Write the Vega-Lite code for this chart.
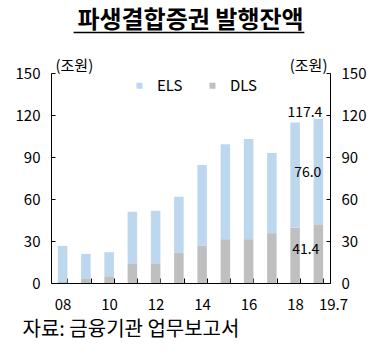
{
  "$schema": "https://vega.github.io/schema/vega-lite/v6.json",
  "width": 279,
  "height": 210,
  "autosize": "none",
  "padding": {"left": 51, "top": 73, "right": 48, "bottom": 69},
  "background": "white",
  "config": {
    "font": "Noto Sans CJK KR",
    "view": {"stroke": null},
    "axis": {"grid": false, "domainColor": "black", "tickColor": "black", "labelColor": "black", "titleColor": "black", "titleFontWeight": "normal", "labelFont": "Noto Sans CJK KR", "titleFont": "Noto Sans CJK KR"},
    "text": {"font": "Noto Sans CJK KR", "color": "black"}
  },
  "title": {"text": "파생결합증권 발행잔액", "fontSize": 24, "fontWeight": "bold", "font": "Noto Sans CJK KR", "anchor": "middle", "frame": "group", "color": "black", "offset": -1},
  "data": {"values": [
    {"year": "08", "type": "DLS", "value": 0.7}, {"year": "08", "type": "ELS", "value": 25.8},
    {"year": "09", "type": "DLS", "value": 2.9}, {"year": "09", "type": "ELS", "value": 17.9},
    {"year": "10", "type": "DLS", "value": 4.8}, {"year": "10", "type": "ELS", "value": 17.2},
    {"year": "11", "type": "DLS", "value": 13.6}, {"year": "11", "type": "ELS", "value": 37.3},
    {"year": "12", "type": "DLS", "value": 13.6}, {"year": "12", "type": "ELS", "value": 38.0},
    {"year": "13", "type": "DLS", "value": 21.5}, {"year": "13", "type": "ELS", "value": 40.1},
    {"year": "14", "type": "DLS", "value": 26.5}, {"year": "14", "type": "ELS", "value": 57.8},
    {"year": "15", "type": "DLS", "value": 31.3}, {"year": "15", "type": "ELS", "value": 67.8},
    {"year": "16", "type": "DLS", "value": 31.3}, {"year": "16", "type": "ELS", "value": 71.6},
    {"year": "17", "type": "DLS", "value": 35.6}, {"year": "17", "type": "ELS", "value": 57.3},
    {"year": "18", "type": "DLS", "value": 39.4}, {"year": "18", "type": "ELS", "value": 75.2},
    {"year": "19.7", "type": "DLS", "value": 41.4}, {"year": "19.7", "type": "ELS", "value": 76.0}
  ]},
  "layer": [
    {
      "mark": {"type": "bar"},
      "encoding": {
        "x": {"field": "year", "type": "nominal", "sort": null,
          "scale": {"paddingInner": 0.59, "paddingOuter": 0.295},
          "axis": {"title": "자료: 금융기관 업무보고서", "titleAnchor": "start", "titleAlign": "left", "titleBaseline": "middle", "titleX": -29, "titleY": 46, "titleFontSize": 20,
            "labelAngle": 0, "labelFontSize": 15, "labelPadding": 19, "labelOverlap": false, "tickBand": "extent", "tickSize": -5,
            "labelExpr": "indexof(['09','11','13','15','17'], datum.label) >= 0 ? '' : datum.label",
            "labelAlign": {"condition": {"test": "datum.label == '19.7'", "value": "left"}, "value": "center"}}},
        "y": {"field": "value", "type": "quantitative", "stack": "zero",
          "scale": {"domain": [0, 150], "nice": false},
          "axis": {"title": "(조원)", "titleAngle": 0, "titleAlign": "left", "titleBaseline": "middle", "titleX": 4, "titleY": -8, "titleFontSize": 15,
            "values": [0, 30, 60, 90, 120, 150], "tickSize": -4, "labelPadding": 15, "labelFontSize": 15}},
        "color": {"field": "type", "type": "nominal",
          "scale": {"domain": ["ELS", "DLS"], "range": ["#BDD7EE", "#BFBFBF"]},
          "legend": {"orient": "none", "legendX": 81, "legendY": 5, "direction": "horizontal", "title": null, "symbolType": "square", "symbolSize": 36, "symbolStrokeWidth": 0, "labelFontSize": 15, "labelFont": "Noto Sans CJK KR", "labelColor": "black", "columnPadding": 22, "labelOffset": 10}},
        "order": {"field": "type", "sort": "ascending"}
      }
    },
    {
      "transform": [{"filter": "datum.year == '19.7' && datum.type == 'DLS'"}],
      "mark": {"type": "text", "align": "right", "baseline": "middle", "dx": 1, "dy": 25, "fontSize": 14},
      "encoding": {
        "x": {"field": "year", "type": "nominal", "sort": null},
        "y": {"field": "value", "type": "quantitative", "stack": null,
          "scale": {"domain": [0, 150], "nice": false},
          "axis": {"orient": "right", "title": "(조원)", "titleAngle": 0, "titleAlign": "right", "titleBaseline": "middle", "titleX": -3, "titleY": -8, "titleFontSize": 15,
            "values": [0, 30, 60, 90, 120, 150], "tickSize": -4, "labelPadding": 15, "labelFontSize": 15}},
        "text": {"field": "value", "type": "quantitative", "format": ".1f"}
      }
    },
    {
      "transform": [{"filter": "datum.year == '19.7' && datum.type == 'ELS'"}],
      "mark": {"type": "text", "align": "right", "baseline": "middle", "dx": 3, "dy": -4, "fontSize": 14},
      "encoding": {
        "x": {"field": "year", "type": "nominal", "sort": null},
        "y": {"field": "value", "type": "quantitative", "stack": null, "scale": {"domain": [0, 150], "nice": false}, "axis": null},
        "text": {"field": "value", "type": "quantitative", "format": ".1f"}
      }
    },
    {
      "transform": [{"filter": "datum.year == '19.7'"}, {"aggregate": [{"op": "sum", "field": "value", "as": "total"}], "groupby": ["year"]}],
      "mark": {"type": "text", "align": "right", "baseline": "middle", "dx": 4, "dy": -6, "fontSize": 14},
      "encoding": {
        "x": {"field": "year", "type": "nominal", "sort": null},
        "y": {"field": "total", "type": "quantitative", "scale": {"domain": [0, 150], "nice": false}, "axis": null},
        "text": {"field": "total", "type": "quantitative", "format": ".1f"}
      }
    },
    {
      "data": {"values": [{"deco": "underline"}]},
      "mark": {"type": "rule", "color": "black", "strokeWidth": 1.5, "xOffset": 11, "x2Offset": -14},
      "encoding": {
        "x": {"datum": "08"},
        "x2": {"datum": "19.7"},
        "y": {"datum": 179, "type": "quantitative", "scale": {"domain": [0, 150], "nice": false}, "axis": null}
      }
    }
  ],
  "resolve": {"scale": {"y": "independent"}}
}
